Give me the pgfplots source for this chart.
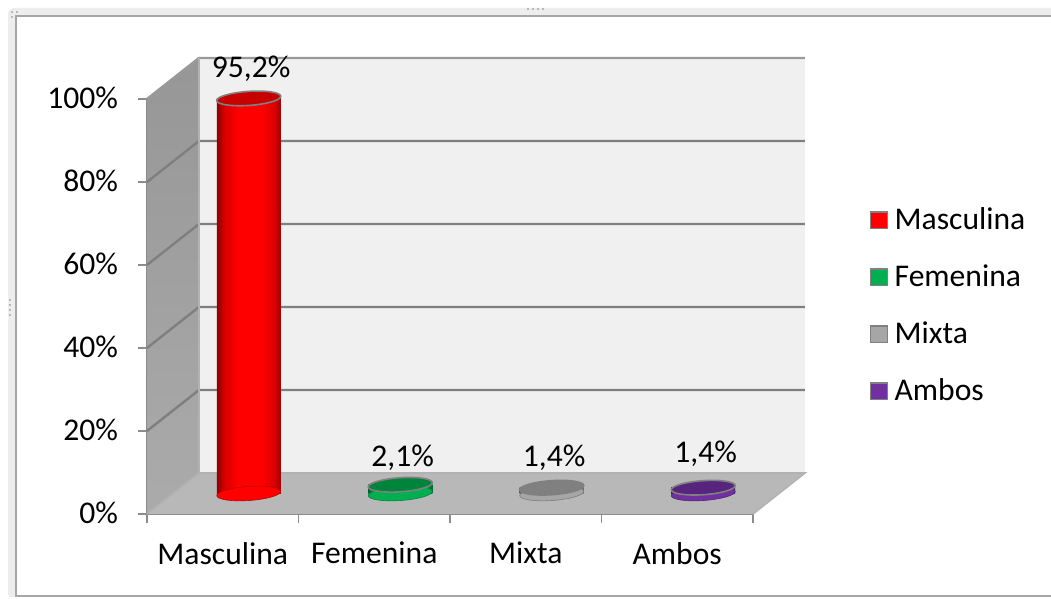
\documentclass[border=0pt]{standalone}
\usepackage{fontspec}
\setmainfont{Carlito}
\usepackage{pgfplots}
\pgfplotsset{compat=1.18}
\definecolor{wallL}{HTML}{A0A0A0}
\definecolor{wallB}{HTML}{F0F0F0}
\definecolor{floorC}{HTML}{B8B8B8}
\definecolor{gridC}{HTML}{7F7F7F}
\definecolor{rimC}{HTML}{808080}
\pgfdeclarehorizontalshading{cylred}{100bp}{color(0bp)=(red!55!black); color(25bp)=(red!55!black); color(31bp)=(red!85!black); color(42bp)=(red); color(60bp)=(red); color(70bp)=(red!85!black); color(75bp)=(red!62!black); color(100bp)=(red!62!black)}
\definecolor{grnA}{HTML}{00B050}
\pgfdeclarehorizontalshading{cylgrn}{100bp}{color(0bp)=(grnA!55!black); color(25bp)=(grnA!55!black); color(31bp)=(grnA!85!black); color(42bp)=(grnA); color(60bp)=(grnA); color(70bp)=(grnA!85!black); color(75bp)=(grnA!62!black); color(100bp)=(grnA!62!black)}
\definecolor{gryA}{HTML}{A6A6A6}
\pgfdeclarehorizontalshading{cylgry}{100bp}{color(0bp)=(gryA!55!black); color(25bp)=(gryA!55!black); color(31bp)=(gryA!85!black); color(42bp)=(gryA); color(60bp)=(gryA); color(70bp)=(gryA!85!black); color(75bp)=(gryA!62!black); color(100bp)=(gryA!62!black)}
\definecolor{purA}{HTML}{7030A0}
\pgfdeclarehorizontalshading{cylpur}{100bp}{color(0bp)=(purA!55!black); color(25bp)=(purA!55!black); color(31bp)=(purA!85!black); color(42bp)=(purA); color(60bp)=(purA); color(70bp)=(purA!85!black); color(75bp)=(purA!62!black); color(100bp)=(purA!62!black)}
\pgfdeclareplotmark{cyl}{%
  \pgfpathellipse{\pgfpointorigin}{\pgfqpoint{16pt}{1.1pt}}{\pgfqpoint{-0.25pt}{3.5pt}}%
  \pgfusepathqfillstroke}
\pgfplotsset{
  sq/.style={legend image code/.code={\draw[draw=gray,line width=0.6pt,shading=axis,left color=#1,right color=#1] (0pt,-4.2pt) rectangle (8.4pt,4.2pt);}},
  cylbar/.style={shade,shading=#1,shading angle=0,draw=none},
  top/.style={only marks,mark=cyl,forget plot,mark options={draw=rimC,line width=0.8pt,fill=#1}},
  base/.style={only marks,mark=cyl,forget plot,mark options={draw=#1!75!black,line width=0.3pt,fill=#1}},
}
\newcommand{\lab}{\fontsize{15.8}{18}\selectfont}
\begin{document}
\begin{tikzpicture}
\useasboundingbox (0,0) rectangle (525.5pt,299.5pt);
\fill[white] (0,0) rectangle (525.5pt,299.5pt);
\fill[black!7,rounded corners=3pt] (4pt,0pt) rectangle (530pt,295.5pt);
\fill[white,draw=black!35,line width=0.7pt] (8pt,1.5pt) rectangle (530pt,291.5pt);
\fill[white] (0,0) rectangle (530pt,1.2pt);
\foreach \px in {528,533,538,543} \fill[black!28] ({\px/2*1pt-0.5pt},{294.5pt}) rectangle +(1pt,1pt);
\foreach \py in {300,305,310,315} \fill[black!28] (4.5pt,{(599-\py)/2*1pt-0.5pt}) rectangle +(1pt,1pt);
\foreach \px/\py in {12/12,17/12,12/17} \fill[black!28] ({\px/2*1pt-0.5pt},{(599-\py)/2*1pt-0.5pt}) rectangle +(1pt,1pt);
\begin{axis}[
  at={(73.5pt,42.5pt)},anchor=south west,scale only axis,
  width=303pt,height=207.5pt,clip=false,
  xmin=-0.5,xmax=3.5,ymin=0,ymax=100,
  axis x line*=bottom,axis y line*=left,
  axis line style={draw=black!45,line width=0.9pt},
  xtick={0,1,2,3},xticklabels={Masculina,Femenina,Mixta,Ambos},
  minor xtick={-0.5,0.5,1.5,2.5,3.5},
  ytick={0,20,40,60,80,100},yticklabels={0\%,20\%,40\%,60\%,80\%,100\%},
  tick align=outside,major tick length=4.5pt,minor tick length=4.5pt,
  major x tick style={draw=none},
  minor x tick style={draw=black!45,line width=0.6pt},
  y tick style={draw=black!45,line width=0.7pt},
  tick label style={font=\lab,text=black},
  xticklabel style={yshift=-6pt},
  yticklabel style={xshift=-6.5pt,yshift=0.5pt},
]
\addplot[fill=wallB,draw=none,forget plot] coordinates {(-0.1568,9.88) (-0.1568,109.88) (3.8432,109.88) (3.8432,9.88)} -- cycle;
\addplot[shade,bottom color=black!33,top color=black!41,draw=none,forget plot] coordinates {(-0.5,0) (-0.5,100) (-0.1568,109.88) (-0.1568,9.88)} -- cycle;
\addplot[fill=floorC,draw=none,forget plot] coordinates {(-0.5,0) (3.5,0) (3.8432,9.88) (-0.1568,9.88)} -- cycle;
\addplot[gridC,line width=1.2pt,forget plot] coordinates {(-0.5,20) (-0.1568,29.88) (3.8432,29.88)};
\addplot[gridC,line width=1.2pt,forget plot] coordinates {(-0.5,40) (-0.1568,49.88) (3.8432,49.88)};
\addplot[gridC,line width=1.2pt,forget plot] coordinates {(-0.5,60) (-0.1568,69.88) (3.8432,69.88)};
\addplot[gridC,line width=1.2pt,forget plot] coordinates {(-0.5,80) (-0.1568,89.88) (3.8432,89.88)};
\addplot[black!40,line width=1.2pt,forget plot] coordinates {(-0.5,100) (-0.1568,109.88) (3.8432,109.88)};
\addplot[black!30,line width=0.8pt,forget plot] coordinates {(-0.5,0) (-0.1568,9.88) (3.8432,9.88) (3.5,0)};
\addplot[black!30,line width=0.8pt,forget plot] coordinates {(-0.1568,9.88) (-0.1568,109.88)};
\end{axis}
\begin{axis}[
  at={(86.5pt,52.75pt)},anchor=south west,scale only axis,
  width=303pt,height=207.5pt,clip=false,hide axis,
  xmin=-0.5,xmax=3.5,ymin=0,ymax=100,
  ybar,bar width=32pt,bar shift=0pt,
  nodes near coords={\pgfmathprintnumber[assume math mode=true,fixed,fixed zerofill,precision=1,use comma]{\pgfplotspointmeta}\%},
  every node near coord/.style={font=\lab,text=black,anchor=center,xshift=1.2pt,yshift=14.8pt},
  legend style={at={(1.15,0.452)},anchor=west,draw=none,fill=none,row sep=12.1pt,inner sep=0pt,
    font=\lab,
    /tikz/every odd column/.append style={column sep=1.2pt}},
  legend cell align=left,
]
\addplot[base=grnA,forget plot,nodes near coords=\empty] coordinates {(1,0)};
\addplot[base=red,forget plot,nodes near coords=\empty] coordinates {(0,0)};
\addplot[base=gryA,forget plot,nodes near coords=\empty] coordinates {(2,0)};
\addplot[base=purA,forget plot,nodes near coords=\empty] coordinates {(3,0)};
\addplot[cylbar=cylred,sq=red] coordinates {(0,95.2)};
\addplot[cylbar=cylgrn,sq=grnA,nodes near coords style={yshift=-1.5pt}] coordinates {(1,2.1)};
\addplot[cylbar=cylgry,sq=gryA] coordinates {(2,1.4)};
\addplot[cylbar=cylpur,sq=purA,nodes near coords style={yshift=2pt}] coordinates {(3,1.4)};
\legend{Masculina,Femenina,Mixta,Ambos}
\addplot[top={red!78!black},nodes near coords=\empty] coordinates {(0,95.2)};
\addplot[top={grnA!75!black},nodes near coords=\empty] coordinates {(1,2.1)};
\addplot[top={rimC},nodes near coords=\empty] coordinates {(2,1.4)};
\addplot[top={purA!78!black},nodes near coords=\empty] coordinates {(3,1.4)};
\end{axis}
\end{tikzpicture}
\end{document}
